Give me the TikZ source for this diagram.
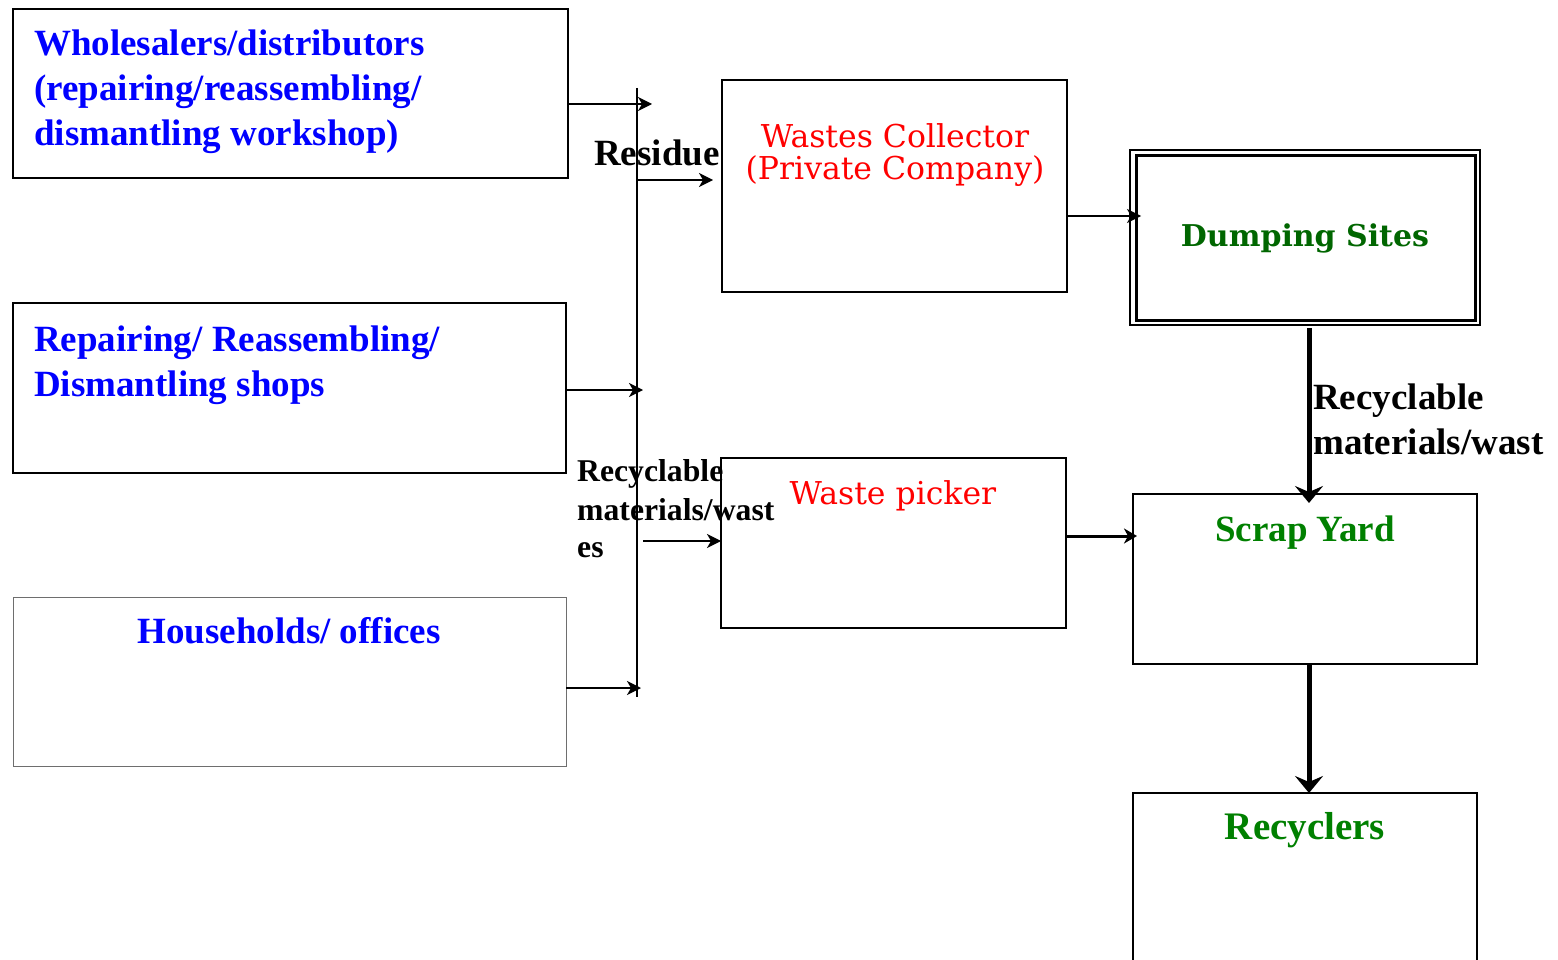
\documentclass[tikz,border=0pt]{standalone}
\usepackage{fontspec}
\setmainfont{Liberation Serif}
\newfontfamily\camfont{DejaVu Serif}
\usetikzlibrary{arrows.meta,calc}
\definecolor{bluetxt}{RGB}{0,0,255}
\definecolor{redtxt}{RGB}{255,0,0}
\definecolor{darkgreen}{RGB}{0,102,0}
\definecolor{midgreen}{RGB}{0,128,0}
\definecolor{greyline}{RGB}{110,110,110}
\tikzset{
  box/.style={draw=black, line width=1.5pt, rectangle, inner sep=0pt, outer sep=0pt, anchor=north west},
  bluelbl/.style={text=bluetxt, font=\fontsize{37}{45}\selectfont\bfseries, inner sep=0pt, anchor=base west},
  blacklbl/.style={text=black, font=\fontsize{37}{45}\selectfont\bfseries, inner sep=0pt, anchor=base west},
  smalllbl/.style={text=black, font=\fontsize{31.7}{39}\selectfont\bfseries, inner sep=0pt, anchor=base west},
  redlbl/.style={text=redtxt, font=\camfont\fontsize{31.5}{33}\selectfont, inner sep=0pt, anchor=base},
  greenlbl/.style={text=midgreen, font=\fontsize{37}{45}\selectfont\bfseries, inner sep=0pt, anchor=base},
  thinarrow/.style={line width=1.5pt, -{Stealth[length=14pt,width=14pt,inset=4pt]}},
  thickarrow/.style={line width=5pt, -{Stealth[length=17pt,width=28pt,inset=6pt]}},
  midarrow/.style={line width=3pt, -{Stealth[length=13pt,width=15pt,inset=4pt]}},
}
\begin{document}
\begin{tikzpicture}[x=1pt,y=-1pt]
\useasboundingbox (0,0) rectangle (1558,960);
\fill[white] (0,0) rectangle (1558,960);

% left boxes
\node[box, minimum width=555pt, minimum height=169pt] (b1) at (13,9) {};
\node[box, minimum width=553pt, minimum height=170pt] (b2) at (13,303) {};
\node[box, draw=greyline, line width=1pt, minimum width=553pt, minimum height=169pt] (b3) at (13,597) {};

\node[bluelbl] (t1a) at (34,56) {Wholesalers/distributors};
\node[bluelbl] (t1b) at (34,101) {(repairing/reassembling/};
\node[bluelbl] (t1c) at (34,146) {dismantling workshop)};
\node[bluelbl] (t2a) at (34,351) {Repairing/ Reassembling/};
\node[bluelbl] (t2b) at (34,396) {Dismantling shops};
\node[bluelbl, anchor=base] (t3a) at (289,643) {Households/ offices};

% middle boxes
\node[box, minimum width=345pt, minimum height=212pt] (wc) at (722,80) {};
\node[redlbl] (wct1) at (895,148) {Wastes Collector};
\node[redlbl] (wct2) at (895,180) {(Private Company)};
\node[box, minimum width=345pt, minimum height=170pt] (wp) at (721,458) {};
\node[redlbl] (wpt) at (893,504) {Waste picker};

% right boxes
\node[box, minimum width=350pt, minimum height=175pt] (ds) at (1130,150) {};
\node[box, line width=3pt, minimum width=339pt, minimum height=164pt] (dsi) at (1136,156) {};
\node[text=darkgreen, font=\camfont\bfseries\fontsize{30}{33}\selectfont, inner sep=0pt, anchor=base] (dst) at (1305,247) {Dumping Sites};
\node[box, minimum width=344pt, minimum height=170pt] (sy) at (1133,494) {};
\node[greenlbl] (syt) at (1305,541) {Scrap Yard};
\node[box, minimum width=344pt, minimum height=200pt] (rc) at (1133,793) {};
\node[greenlbl, font=\fontsize{39}{45}\selectfont\bfseries] (rct) at (1305,839) {Recyclers};

% bus line
\coordinate (bt) at (637,88);
\coordinate (bb) at (637,697);
\draw[line width=1.5pt] (bt) -- (bb);

% labels
\node[blacklbl] (res) at (594,166) {Residue};
\node[smalllbl] (l1) at (577,481) {Recyclable};
\node[smalllbl] (l2) at (577,520) {materials/wast};
\node[smalllbl] (l3) at (577,557) {es};
\node[blacklbl] (r1) at (1313,409) {Recyclable};
\node[blacklbl] (r2) at (1313,454) {materials/wast};

% arrows
\coordinate (e1) at (652,104);
\coordinate (s2) at (637,180);
\coordinate (e2) at (713,180);
\coordinate (e3) at (643,390);
\coordinate (s4) at (643,541);
\coordinate (e5) at (641,688);
\draw[thinarrow] (b1.east |- e1) -- (e1);
\draw[thinarrow] (s2) -- (e2);
\draw[thinarrow] (b2.east |- e3) -- (e3);
\draw[thinarrow] (s4) -- (wp.west |- s4);
\draw[thinarrow] (b3.east |- e5) -- (e5);
\draw[thinarrow] (wc.east |- 0,216) -- (1141,216);
\draw[thickarrow] (ds.south -| 1309,0) ++(0,3) -- (1309,503);
\draw[midarrow] (wp.east |- 0,536) -- (1137,536);
\draw[thickarrow] (sy.south -| 1309,0) -- (rc.north -| 1309,0);
\end{tikzpicture}
\end{document}
